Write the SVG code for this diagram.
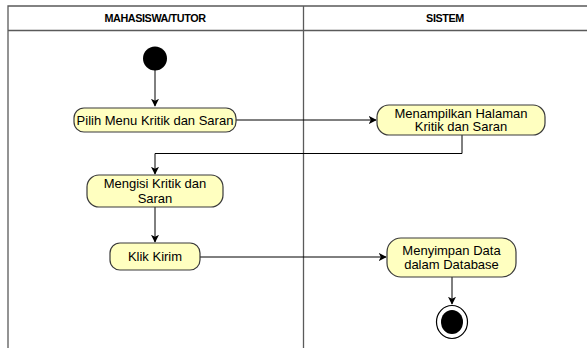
<svg xmlns="http://www.w3.org/2000/svg" width="587" height="348" viewBox="0 0 587 348">
  <style>
    .lane { fill: none; stroke: #5a5a5a; stroke-width: 1.3; }
    .head { font-family: "Liberation Sans", Arial, sans-serif; font-size: 10.8px; font-weight: bold; fill: #000; text-anchor: middle; letter-spacing: -0.4px; }
    .act rect { fill: #ffffc0; stroke: #3a3a3a; stroke-width: 1.2; }
    .act text { font-family: "Liberation Sans", Arial, sans-serif; font-size: 13px; fill: #000; text-anchor: middle; }
    .edge { fill: none; stroke: #000; stroke-width: 1; }
  </style>
  <defs>
    <marker id="arrow" viewBox="0 0 10 10" refX="9" refY="5" markerWidth="8" markerHeight="8" markerUnits="userSpaceOnUse" orient="auto">
      <path d="M0,0 L10,5 L0,10 L2.5,5 Z" fill="#000"/>
    </marker>
  </defs>

  <rect width="587" height="348" fill="#fff"/>

  <!-- swimlanes -->
  <g id="lanes">
    <path class="lane" d="M8,360 V6 H600 M8,30.5 H600 M303.5,6 V360"/>
    <text class="head" x="155" y="22">MAHASISWA/TUTOR</text>
    <text class="head" x="445" y="22">SISTEM</text>
  </g>

  <!-- connectors -->
  <g id="connectors">
    <path class="edge" d="M155,70 V106" marker-end="url(#arrow)"/>
    <path class="edge" d="M236,120 H376" marker-end="url(#arrow)"/>
    <path class="edge" d="M462,135 V153.5 H155 V174" marker-end="url(#arrow)"/>
    <path class="edge" d="M155,207 V242" marker-end="url(#arrow)"/>
    <path class="edge" d="M200,257 H386" marker-end="url(#arrow)"/>
    <path class="edge" d="M452,277 V304" marker-end="url(#arrow)"/>
  </g>

  <g id="start">
    <circle cx="155" cy="58.5" r="12" fill="#000"/>
  </g>

  <g id="pilih-menu" class="act">
    <rect x="74" y="108" width="162" height="24" rx="10"/>
    <text x="155" y="125">Pilih Menu Kritik dan Saran</text>
  </g>

  <g id="menampilkan" class="act">
    <rect x="377" y="105" width="168" height="30" rx="12"/>
    <text x="461" y="117.5">Menampilkan Halaman</text>
    <text x="461" y="131">Kritik dan Saran</text>
  </g>

  <g id="mengisi" class="act">
    <rect x="87" y="175" width="136" height="32" rx="12"/>
    <text x="155" y="188">Mengisi Kritik dan</text>
    <text x="155" y="202.5">Saran</text>
  </g>

  <g id="klik-kirim" class="act">
    <rect x="110" y="243" width="90" height="27" rx="10"/>
    <text x="155" y="261">Klik Kirim</text>
  </g>

  <g id="menyimpan" class="act">
    <rect x="387" y="238" width="129" height="39" rx="14"/>
    <text x="451.5" y="254.5">Menyimpan Data</text>
    <text x="451.5" y="268.5">dalam Database</text>
  </g>

  <g id="end">
    <ellipse cx="452" cy="322" rx="15.5" ry="16.5" fill="#fff" stroke="#000" stroke-width="1.2"/>
    <ellipse cx="452" cy="322" rx="11" ry="12" fill="#000"/>
  </g>
</svg>
